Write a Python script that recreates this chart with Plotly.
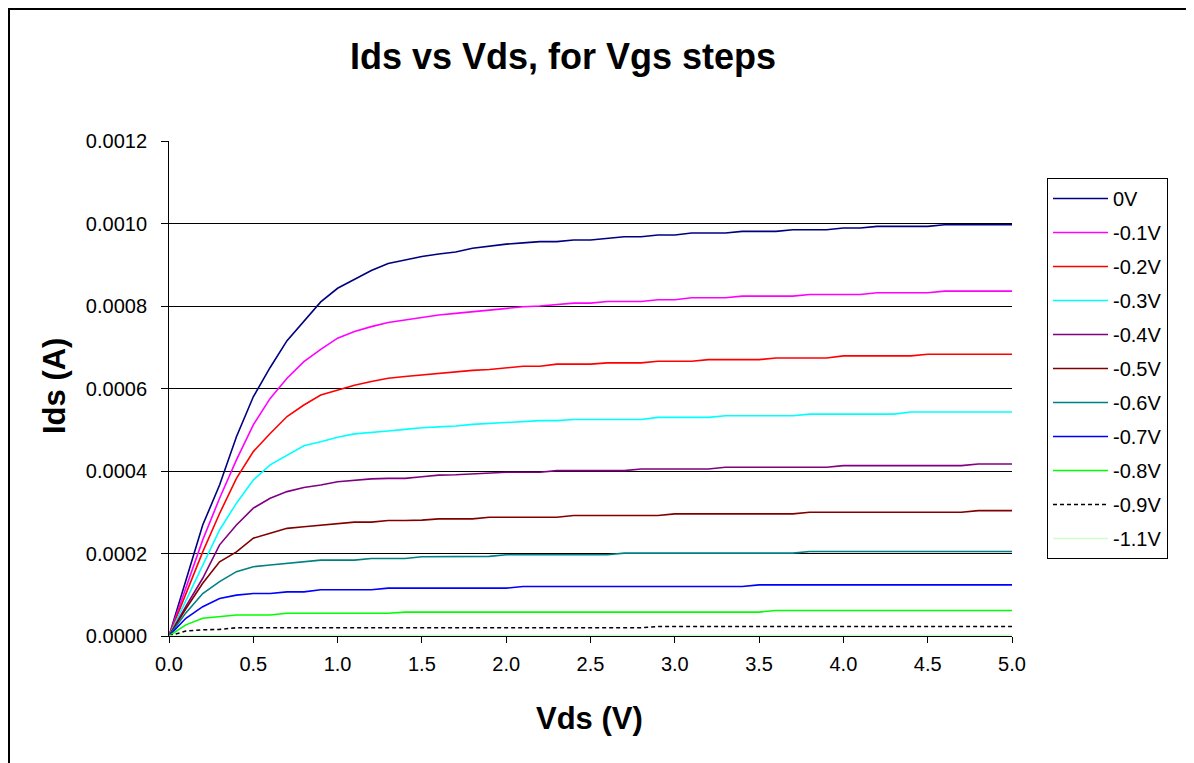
import plotly.graph_objects as go

vds = [0.0, 0.1, 0.2, 0.3, 0.4, 0.5, 0.6, 0.7, 0.8, 0.9,
       1.0, 1.1, 1.2, 1.3, 1.4, 1.5, 1.6, 1.7, 1.8, 1.9,
       2.0, 2.1, 2.2, 2.3, 2.4, 2.5, 2.6, 2.7, 2.8, 2.9,
       3.0, 3.1, 3.2, 3.3, 3.4, 3.5, 3.6, 3.7, 3.8, 3.9,
       4.0, 4.1, 4.2, 4.3, 4.4, 4.5, 4.6, 4.7, 4.8, 4.9, 5.0]

ids_0v = [0, 0.000135, 0.000269, 0.000366, 0.000483, 0.000580, 0.000651, 0.000716, 0.000762, 0.000810,
          0.000843, 0.000865, 0.000886, 0.000903, 0.000912, 0.000920, 0.000926, 0.000931, 0.000940, 0.000945,
          0.000950, 0.000953, 0.000956, 0.000956, 0.000960, 0.000960, 0.000964, 0.000968, 0.000968, 0.000972,
          0.000972, 0.000977, 0.000977, 0.000977, 0.000981, 0.000981, 0.000981, 0.000985, 0.000985, 0.000985,
          0.000989, 0.000989, 0.000993, 0.000993, 0.000993, 0.000993, 0.000997, 0.000997, 0.000997, 0.000997, 0.000997]

ids_m01 = [0, 0.000118, 0.000233, 0.000334, 0.000427, 0.000512, 0.000576, 0.000625, 0.000665, 0.000695,
           0.000722, 0.000738, 0.000750, 0.000760, 0.000766, 0.000773, 0.000778, 0.000782, 0.000786, 0.000790,
           0.000794, 0.000798, 0.000800, 0.000803, 0.000807, 0.000807, 0.000811, 0.000811, 0.000811, 0.000815,
           0.000815, 0.000820, 0.000820, 0.000820, 0.000824, 0.000824, 0.000824, 0.000824, 0.000828, 0.000828,
           0.000828, 0.000828, 0.000832, 0.000832, 0.000832, 0.000832, 0.000836, 0.000836, 0.000836, 0.000836, 0.000836]

ids_m02 = [0, 0.000102, 0.000204, 0.000297, 0.000382, 0.000447, 0.000491, 0.000532, 0.000560, 0.000584,
           0.000596, 0.000608, 0.000617, 0.000625, 0.000629, 0.000633, 0.000637, 0.000641, 0.000644, 0.000646,
           0.000650, 0.000654, 0.000654, 0.000659, 0.000659, 0.000659, 0.000662, 0.000662, 0.000662, 0.000666,
           0.000666, 0.000666, 0.000670, 0.000670, 0.000670, 0.000670, 0.000674, 0.000674, 0.000674, 0.000674,
           0.000679, 0.000679, 0.000679, 0.000679, 0.000679, 0.000683, 0.000683, 0.000683, 0.000683, 0.000683, 0.000683]

ids_m03 = [0, 0.000086, 0.000172, 0.000257, 0.000322, 0.000378, 0.000415, 0.000439, 0.000461, 0.000471,
           0.000482, 0.000490, 0.000493, 0.000497, 0.000501, 0.000505, 0.000507, 0.000509, 0.000513, 0.000515,
           0.000517, 0.000519, 0.000522, 0.000522, 0.000525, 0.000525, 0.000525, 0.000525, 0.000525, 0.000530,
           0.000530, 0.000530, 0.000530, 0.000534, 0.000534, 0.000534, 0.000534, 0.000534, 0.000538, 0.000538,
           0.000538, 0.000538, 0.000538, 0.000538, 0.000543, 0.000543, 0.000543, 0.000543, 0.000543, 0.000543, 0.000543]

ids_m04 = [0, 0.000072, 0.000140, 0.000221, 0.000269, 0.000310, 0.000334, 0.000350, 0.000360, 0.000366,
           0.000374, 0.000378, 0.000381, 0.000382, 0.000382, 0.000386, 0.000390, 0.000391, 0.000393, 0.000395,
           0.000397, 0.000397, 0.000397, 0.000401, 0.000401, 0.000401, 0.000401, 0.000401, 0.000405, 0.000405,
           0.000405, 0.000405, 0.000405, 0.000409, 0.000409, 0.000409, 0.000409, 0.000409, 0.000409, 0.000409,
           0.000413, 0.000413, 0.000413, 0.000413, 0.000413, 0.000413, 0.000413, 0.000413, 0.000417, 0.000417, 0.000417]

ids_m05 = [0, 0.000066, 0.000128, 0.000180, 0.000204, 0.000237, 0.000249, 0.000261, 0.000265, 0.000269,
           0.000273, 0.000276, 0.000276, 0.000280, 0.000280, 0.000281, 0.000284, 0.000284, 0.000284, 0.000288,
           0.000288, 0.000288, 0.000288, 0.000288, 0.000292, 0.000292, 0.000292, 0.000292, 0.000292, 0.000292,
           0.000296, 0.000296, 0.000296, 0.000296, 0.000296, 0.000296, 0.000296, 0.000296, 0.000300, 0.000300,
           0.000300, 0.000300, 0.000300, 0.000300, 0.000300, 0.000300, 0.000300, 0.000300, 0.000304, 0.000304, 0.000304]

ids_m06 = [0, 0.000056, 0.000103, 0.000132, 0.000156, 0.000168, 0.000172, 0.000176, 0.000180, 0.000184,
           0.000184, 0.000184, 0.000188, 0.000188, 0.000188, 0.000192, 0.000192, 0.000193, 0.000193, 0.000193,
           0.000197, 0.000197, 0.000197, 0.000197, 0.000197, 0.000197, 0.000197, 0.000201, 0.000201, 0.000201,
           0.000201, 0.000201, 0.000201, 0.000201, 0.000201, 0.000201, 0.000201, 0.000201, 0.000205, 0.000205,
           0.000205, 0.000205, 0.000205, 0.000205, 0.000205, 0.000205, 0.000205, 0.000205, 0.000205, 0.000205, 0.000205]

ids_m07 = [0, 0.000043, 0.000071, 0.000091, 0.000099, 0.000103, 0.000103, 0.000107, 0.000107, 0.000112,
           0.000112, 0.000112, 0.000112, 0.000116, 0.000116, 0.000116, 0.000116, 0.000116, 0.000116, 0.000116,
           0.000116, 0.000120, 0.000120, 0.000120, 0.000120, 0.000120, 0.000120, 0.000120, 0.000120, 0.000120,
           0.000120, 0.000120, 0.000120, 0.000120, 0.000120, 0.000124, 0.000124, 0.000124, 0.000124, 0.000124,
           0.000124, 0.000124, 0.000124, 0.000124, 0.000124, 0.000124, 0.000124, 0.000124, 0.000124, 0.000124, 0.000124]

ids_m08 = [0, 0.000027, 0.000043, 0.000047, 0.000051, 0.000051, 0.000051, 0.000055, 0.000055, 0.000055,
           0.000055, 0.000055, 0.000055, 0.000055, 0.000058, 0.000058, 0.000058, 0.000058, 0.000058, 0.000058,
           0.000058, 0.000058, 0.000058, 0.000058, 0.000058, 0.000058, 0.000058, 0.000058, 0.000058, 0.000058,
           0.000058, 0.000058, 0.000058, 0.000058, 0.000058, 0.000058, 0.000062, 0.000062, 0.000062, 0.000062,
           0.000062, 0.000062, 0.000062, 0.000062, 0.000062, 0.000062, 0.000062, 0.000062, 0.000062, 0.000062, 0.000062]

ids_m09 = [0, 0.000012, 0.000015, 0.000016, 0.000020, 0.000020, 0.000020, 0.000020, 0.000020, 0.000020,
           0.000020, 0.000020, 0.000020, 0.000020, 0.000020, 0.000020, 0.000020, 0.000020, 0.000020, 0.000020,
           0.000020, 0.000020, 0.000020, 0.000020, 0.000020, 0.000020, 0.000020, 0.000020, 0.000020, 0.000023,
           0.000023, 0.000023, 0.000023, 0.000023, 0.000023, 0.000023, 0.000023, 0.000023, 0.000023, 0.000023,
           0.000023, 0.000023, 0.000023, 0.000023, 0.000023, 0.000023, 0.000023, 0.000023, 0.000023, 0.000023, 0.000023]

ids_m11 = [0, 0.0000015, 0.0000015, 0.0000015, 0.0000015, 0.0000015, 0.0000015, 0.0000015, 0.0000015, 0.0000015,
           0.0000015, 0.0000015, 0.0000015, 0.0000015, 0.0000015, 0.0000015, 0.0000015, 0.0000015, 0.0000015, 0.0000015,
           0.0000015, 0.0000015, 0.0000015, 0.0000015, 0.0000015, 0.0000015, 0.0000015, 0.0000015, 0.0000015, 0.0000015,
           0.0000015, 0.0000015, 0.0000015, 0.0000015, 0.0000015, 0.0000015, 0.0000015, 0.0000015, 0.0000015, 0.0000015,
           0.0000015, 0.0000015, 0.0000015, 0.0000015, 0.0000015, 0.0000015, 0.0000015, 0.0000015, 0.0000015, 0.0000015, 0.0000015]

series_names = ["0V", "-0.1V", "-0.2V", "-0.3V", "-0.4V", "-0.5V", "-0.6V", "-0.7V", "-0.8V", "-0.9V", "-1.1V"]
series_values = [ids_0v, ids_m01, ids_m02, ids_m03, ids_m04, ids_m05, ids_m06, ids_m07, ids_m08, ids_m09, ids_m11]
series_colors = ["#000080", "#FF00FF", "#FF0000", "#00FFFF", "#800080", "#800000",
                 "#008080", "#0000FF", "#00FF00", "#000000", "#CCFFCC"]
series_dash = ["solid"] * 9 + ["4px,3px", "solid"]

x_ticks = [0.0, 0.5, 1.0, 1.5, 2.0, 2.5, 3.0, 3.5, 4.0, 4.5, 5.0]
y_ticks = [0.0, 0.0002, 0.0004, 0.0006, 0.0008, 0.0010, 0.0012]

FONT = "Liberation Sans, Arial, sans-serif"

fig = go.Figure()
for i, (name, vals, col, dash) in enumerate(zip(series_names, series_values, series_colors, series_dash)):
    fig.add_trace(go.Scatter(
        x=vds, y=vals, name=name, mode="lines",
        line=dict(color=col, width=1.6, dash=dash),
        legendgroup=f"g{i}",
    ))

# page body has an 8px margin; figure is sized/positioned to compensate
OX, OY = 8, 8
W, H = 1194 - OX, 763 - OY
# plot area in screen pixels: x 169..1012, y 141..636
L, R = 169 - OX, 1194 - 1012
T, B = 141 - OY, 763 - 636
pw, ph = W - L - R, H - T - B

def px(x):
    return (x - OX - L) / pw

def py(y):
    return (H - B - (y - OY)) / ph

fig.update_layout(
    width=W, height=H,
    margin=dict(l=L, r=R, t=T, b=B, autoexpand=False),
    paper_bgcolor="white", plot_bgcolor="white",
    font=dict(family=FONT, color="black", size=20),
    title=dict(text="Ids vs Vds, for Vgs steps", font=dict(size=36, weight="bold", family=FONT),
               x=(563 - OX) / W, xref="container", xanchor="center",
               y=1 - (56 - OY) / H, yref="container", yanchor="middle"),
    showlegend=True,
    legend=dict(x=px(1047), y=py(178), xanchor="left", yanchor="top",
                bordercolor="black", borderwidth=1, bgcolor="white",
                font=dict(size=20, family=FONT), tracegroupgap=5,
                itemwidth=55),
    xaxis=dict(range=[0, 5], tickvals=x_ticks, tickformat=".1f",
               showgrid=False, zeroline=False, showline=True, linecolor="black", linewidth=1,
               ticks="outside", ticklen=6, tickcolor="black", tickwidth=1,
               tickfont=dict(size=20, family=FONT), ticklabelstandoff=4),
    yaxis=dict(range=[0, 0.0012], tickvals=y_ticks, tickformat=".4f",
               showgrid=True, gridcolor="black", gridwidth=1, zeroline=False,
               showline=True, linecolor="black", linewidth=1,
               ticks="outside", ticklen=7, tickcolor="black", tickwidth=1,
               tickfont=dict(size=20, family=FONT), ticklabelstandoff=10),
    annotations=[
        dict(text="<b>Vds (V)</b>", xref="paper", yref="paper", x=px(589), y=py(718),
             xanchor="center", yanchor="middle", showarrow=False, font=dict(size=31, family=FONT)),
        dict(text="<b>Ids (A)</b>", xref="paper", yref="paper", x=px(54), y=py(386),
             xanchor="center", yanchor="middle", showarrow=False, textangle=-90,
             font=dict(size=31, family=FONT)),
    ],
    shapes=[
        # chart-area frame: only its left and top edges fall inside the picture
        dict(type="rect", xref="paper", yref="paper",
             x0=px(OX + 1), x1=px(1230), y0=py(800), y1=py(OY + 1),
             line=dict(color="black", width=2), fillcolor="rgba(0,0,0,0)", layer="below"),
    ],
)

fig.write_html("out.html")
